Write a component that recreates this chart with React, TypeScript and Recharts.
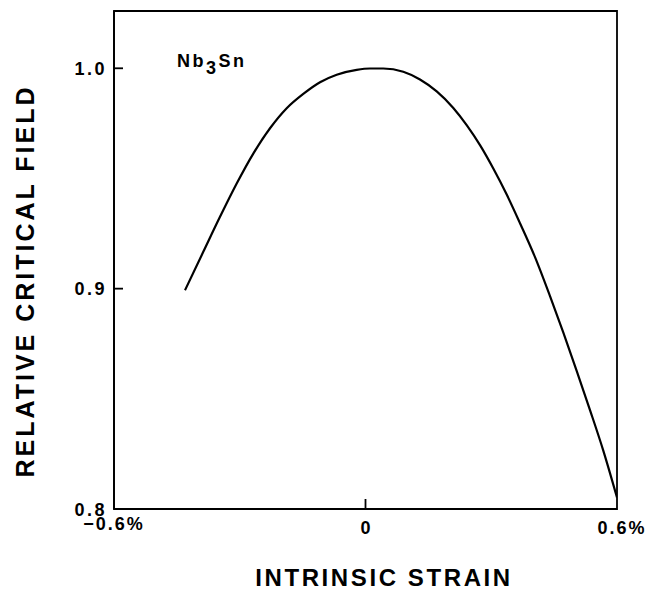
import React from 'react';
import { LineChart, Line, XAxis, YAxis, ReferenceArea, Customized } from 'recharts';

const strain = [-0.4306, -0.387, -0.3471, -0.3073, -0.2677, -0.2278, -0.188, -0.1484, -0.1085, -0.0687, -0.021, 0.0107, 0.0425, 0.0902, 0.13, 0.1699, 0.2095, 0.2414, 0.2732, 0.3049, 0.3369, 0.3686, 0.4044, 0.4402, 0.472, 0.5038, 0.5356, 0.5673, 0.6];
const field = [0.8993, 0.9167, 0.9326, 0.9477, 0.9613, 0.9728, 0.9819, 0.9884, 0.9937, 0.9971, 0.9993, 0.9999, 0.9999, 0.9984, 0.9949, 0.9895, 0.982, 0.9742, 0.9651, 0.9545, 0.9427, 0.9297, 0.9143, 0.8966, 0.88, 0.8627, 0.8449, 0.8265, 0.8052];
const xTicks = [-0.6, 0, 0.6];
const xTickLabels = ['\u22120.6%', '0', '0.6%'];
const yTicks = [0.8, 0.9, 1.0];
const yTickLabels = ['0.8', '0.9', '1.0'];
const xTitle = 'INTRINSIC STRAIN';
const yTitle = 'RELATIVE CRITICAL FIELD';

const data = strain.map((s, i) => ({ strain: s, field: field[i] }));

const FONT = '"Liberation Sans", Arial, Helvetica, sans-serif';

const XTick = (props: any) => {
  const { x, y, payload } = props;
  const i = xTicks.indexOf(payload.value);
  const label = i >= 0 ? xTickLabels[i] : String(payload.value);
  const dx = payload.value === 0 ? 1 : payload.value > 0 ? 5 : 0;
  const dyv = payload.value < 0 ? 15 : 19;
  return (
    <g>
      {payload.value === 0 && <line x1={x} x2={x} y1={y} y2={y - 10} stroke="#000" strokeWidth={1.8} />}
      <text x={x + dx} y={y + dyv} dy="0.36em" textAnchor="middle" fontFamily={FONT} fontSize={18} fontWeight="bold" letterSpacing={2} fill="#000">
        {label}
      </text>
    </g>
  );
};

const YTick = (props: any) => {
  const { x, y, payload } = props;
  const i = yTicks.findIndex((t) => Math.abs(t - payload.value) < 1e-6);
  const label = i >= 0 ? yTickLabels[i] : String(payload.value);
  const isBottom = Math.abs(payload.value - 0.8) < 1e-6;
  return (
    <g>
      {!isBottom && <line x1={x} x2={x + 9} y1={y} y2={y} stroke="#000" strokeWidth={1.8} />}
      <text x={x - 7} y={y + (isBottom ? 1 : 0)} dy="0.36em" textAnchor="end" fontFamily={FONT} fontSize={18} fontWeight="bold" letterSpacing={2.5} fill="#000">
        {label}
      </text>
    </g>
  );
};

const Annotations = () => (
  <g>
    <text x={376} y={578} textAnchor="middle" fontFamily={FONT} fontSize={24} fontWeight="bold" letterSpacing={2.6} fill="#000">
      {xTitle}
    </text>
    <text transform="translate(17,273) rotate(-90)" x={0} y={0} dy="0.36em" textAnchor="middle" fontFamily={FONT} fontSize={25} fontWeight="bold" letterSpacing={3} fill="#000">
      {yTitle}
    </text>
    <text x={169} y={59} fontFamily={FONT} fontSize={18} fontWeight="bold" letterSpacing={2.5} fill="#000">
      <tspan>Nb</tspan>
      <tspan dy={7}>3</tspan>
      <tspan dy={-7}>Sn</tspan>
    </text>
  </g>
);

export default function App() {
  return (
    <LineChart width={651} height={582} data={data} margin={{ top: 3, right: 42, bottom: 51, left: 46 }}>
      <XAxis
        dataKey="strain"
        type="number"
        domain={[-0.6, 0.6]}
        ticks={xTicks}
        tick={<XTick />}
        tickSize={0}
        tickMargin={0}
        tickLine={false}
        height={30}
        axisLine={{ stroke: '#000', strokeWidth: 1.8 }}
        allowDataOverflow
      />
      <YAxis
        type="number"
        domain={[0.8, 1.026]}
        ticks={yTicks}
        tick={<YTick />}
        tickSize={0}
        tickMargin={0}
        tickLine={false}
        width={60}
        axisLine={{ stroke: '#000', strokeWidth: 1.8 }}
        allowDataOverflow
      />
      <ReferenceArea x1={-0.6} x2={0.6} y1={0.8} y2={1.026} fill="none" stroke="#000" strokeWidth={1.8} ifOverflow="visible" />
      <Line type="monotone" dataKey="field" stroke="#000" strokeWidth={2.2} dot={false} isAnimationActive={false} />
      <Customized component={Annotations} />
    </LineChart>
  );
}
